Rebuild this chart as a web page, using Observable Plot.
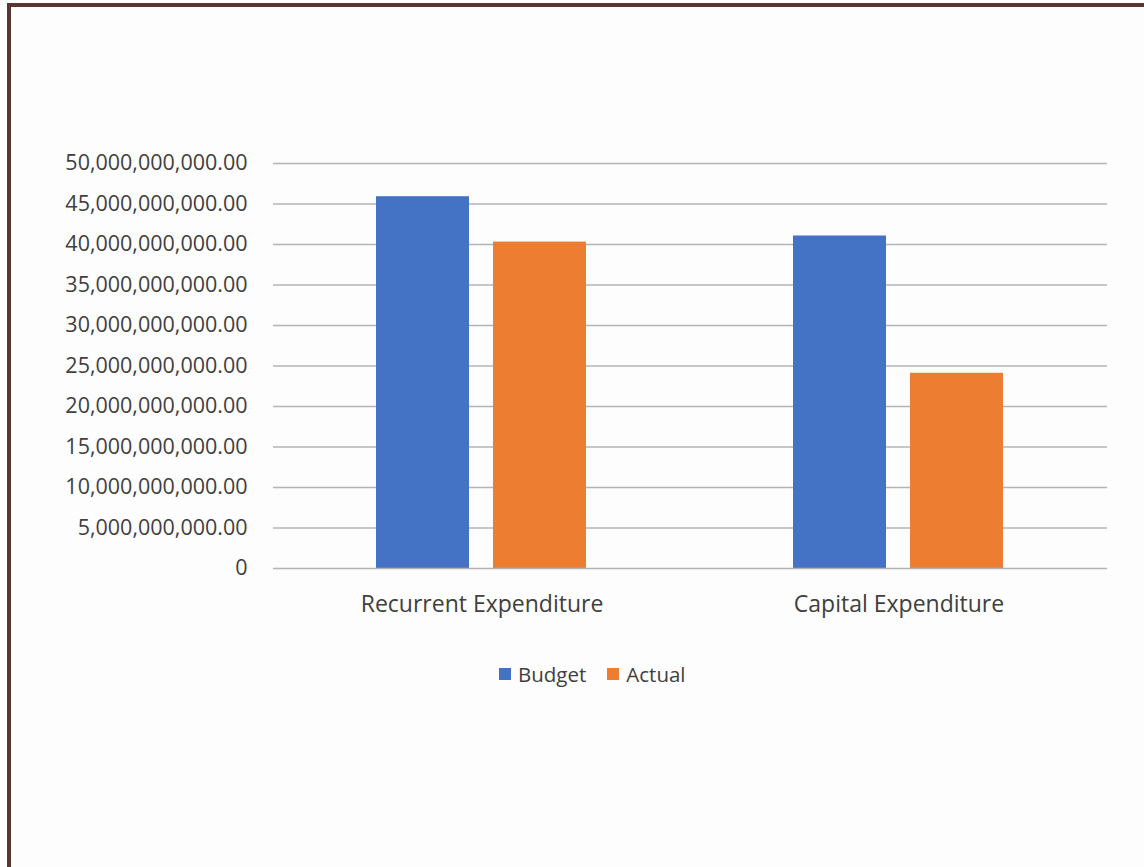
<!DOCTYPE html>
<html>
<head>
<meta charset="utf-8">
<script src="https://cdn.jsdelivr.net/npm/d3@7"></script>
<script src="https://cdn.jsdelivr.net/npm/@observablehq/plot@0.6"></script>
<style>
  html, body { margin: 0; padding: 0; background: #ffffff; }
  body { width: 1144px; height: 867px; position: relative; overflow: hidden; font-family: "Open Sans", sans-serif; }
  #page { position: absolute; left: 7px; top: 3px; width: 1200px; height: 900px; background: #fdfdfd;
          border-left: 4.5px solid #5a3632; border-top: 4px solid #5a3632; }
  #chart { position: absolute; left: 0; top: 0; }
  #legend { position: absolute; top: 660px; left: 499px; display: flex; align-items: center;
            font-size: 20.5px; color: #404040; white-space: nowrap; }
  .sw { display: inline-block; width: 12px; height: 12px; margin-right: 7px; }
  .item { display: flex; align-items: center; margin-right: 21px; }
</style>
</head>
<body>
<div id="page"></div>
<div id="chart"></div>
<div id="legend"></div>
<script>
const categories = ["Recurrent Expenditure", "Capital Expenditure"];
const seriesNames = ["Budget", "Actual"];
const budget = [45.9e9, 41.05e9];
const actual = [40.3e9, 24.1e9];
const yTicks = [0, 5e9, 10e9, 15e9, 20e9, 25e9, 30e9, 35e9, 40e9, 45e9, 50e9];
const colors = ["#4472C4", "#ED7D31"];

const rows = [];
categories.forEach((c, i) => {
  rows.push({category: c, series: "Budget", value: budget[i]});
  rows.push({category: c, series: "Actual", value: actual[i]});
});

const fmt = v => v === 0 ? "0" : d3.format(",.2f")(v);

const chart = Plot.plot({
  width: 1144,
  height: 650,
  marginTop: 163,
  marginBottom: 82,
  marginLeft: 272,
  marginRight: 37,
  style: {fontFamily: "Open Sans, sans-serif", fontSize: "21.5px", color: "#404040", background: "transparent"},
  fx: {domain: categories, paddingInner: 0, paddingOuter: 0, label: null, axis: null},
  x: {domain: seriesNames, paddingInner: 0.2034, paddingOuter: 0.871, axis: null},
  y: {domain: [0, 50e9], ticks: yTicks, label: null, tickFormat: fmt, tickSize: 0, tickPadding: 27},
  color: {domain: seriesNames, range: colors},
  marks: [
    Plot.gridY(yTicks.slice(1), {stroke: "#b4b4b8", strokeOpacity: 1, strokeWidth: 1.6}),
    Plot.barY(rows, {fx: "category", x: "series", y: "value", fill: "series"}),
    Plot.ruleY([0], {stroke: "#b4b4b8", strokeWidth: 1.6}),
    Plot.axisY({ticks: yTicks, tickFormat: fmt, tickSize: 0, tickPadding: 26, fontSize: 21.5, fill: "#404040", label: null}),
    Plot.text(categories, {fx: d => d, frameAnchor: "bottom", dy: 43, text: d => d, fontSize: 23, fill: "#404040"})
  ]
});
document.getElementById("chart").appendChild(chart);

const legend = document.getElementById("legend");
seriesNames.forEach((s, i) => {
  const item = document.createElement("div");
  item.className = "item";
  const sw = document.createElement("span");
  sw.className = "sw";
  sw.style.background = colors[i];
  item.appendChild(sw);
  item.appendChild(document.createTextNode(s));
  legend.appendChild(item);
});
</script>
</body>
</html>
